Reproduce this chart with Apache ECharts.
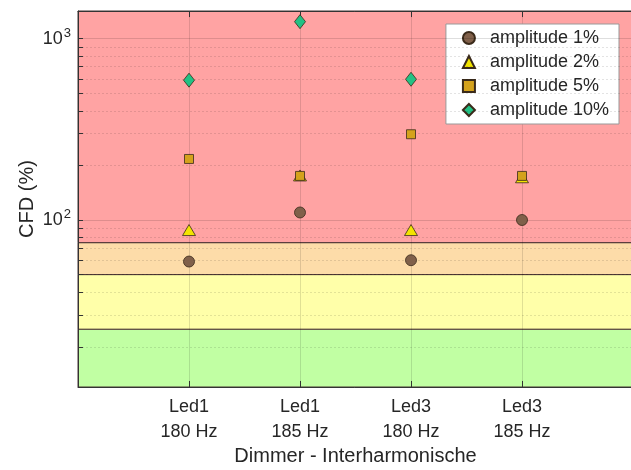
<!DOCTYPE html>
<html>
<head>
<meta charset="utf-8">
<script src="https://cdn.jsdelivr.net/npm/echarts@6/dist/echarts.min.js"></script>
<style>
  html, body { margin: 0; padding: 0; background: #fff; }
  #chart { width: 631px; height: 470px; }
</style>
</head>
<body>
<div id="chart"></div>
<script>
// categories on the x axis (positions 1..4)
const categories = ['Led1\n180 Hz', 'Led1\n185 Hz', 'Led3\n180 Hz', 'Led3\n185 Hz']
const seriesNames = ['amplitude 1%', 'amplitude 2%', 'amplitude 5%', 'amplitude 10%']
// CFD (%) values
const amp1 = [59, 110, 60, 100]
const amp2 = [88, 176, 88, 172]
const amp5 = [217, 175, 297, 175]
const amp10 = [590, 1240, 597, null]
// y range and limit bands
const yMin = 12
const yMax = 1420
const bandLimits = [yMin, 25, 50, 75, yMax]
const majorTicks = [100, 1000]
const minorGrid = [20, 30, 40, 50, 60, 70, 80, 90, 200, 300, 400, 500, 600, 700, 800, 900]

const bandColors = ['#c1ffa3', '#ffffa9', '#fddca9', '#ffa3a3']
const markers = [
  { symbol: 'circle', size: 11, color: '#80604a' },
  { symbol: 'triangle', size: [13, 11], color: '#f2e400' },
  { symbol: 'rect', size: 9, color: '#d4a21c' },
  { symbol: 'diamond', size: [11, 14], color: '#22c184' }
]
const values = [amp1, amp2, amp5, amp10]

const toPoints = arr => arr
  .map((v, i) => (v == null ? null : [i + 1, v]))
  .filter(p => p)

const powLabel = v => {
  const e = Math.round(Math.log10(v))
  if (Math.abs(Math.pow(10, e) - v) > 1e-6 * v) return ''
  return '{b|10}{s|' + e + '}'
}

// inward tick length on the left axis, in x units (one unit ~110 px)
const tickLen = 0.045
const yTickValues = majorTicks.concat(minorGrid).filter(v => v > yMin && v < yMax)

const chart = echarts.init(document.getElementById('chart'), null, { renderer: 'canvas' })

const option = {
  animation: false,
  textStyle: { fontFamily: 'Liberation Sans, Arial, sans-serif' },
  grid: { left: 78, top: 11, right: -2, bottom: 83, containLabel: false, outerBoundsMode: 'none' },
  legend: {
    data: seriesNames,
    orient: 'vertical',
    right: 12,
    top: 24,
    backgroundColor: '#fff',
    borderColor: '#999',
    borderWidth: 1,
    padding: [4, 10, 4, 16],
    itemGap: 4,
    itemWidth: 12,
    itemHeight: 12,
    textStyle: { fontSize: 18, color: '#262626', lineHeight: 20, padding: [0, 0, 0, 10] }
  },
  xAxis: [
    {
      type: 'value',
      min: 0,
      max: 5,
      interval: 1,
      z: 3,
      name: 'Dimmer - Interharmonische',
      nameLocation: 'middle',
      nameGap: 59,
      nameMoveOverlap: false,
      nameTextStyle: { fontSize: 20, color: '#262626' },
      axisLine: { show: true, lineStyle: { color: '#333' } },
      axisTick: { show: false },
      axisLabel: {
        fontSize: 18,
        color: '#262626',
        lineHeight: 25,
        margin: 8,
        formatter: v => categories[v - 1] || ''
      },
      splitLine: { show: true, lineStyle: { color: 'rgba(0,0,0,0.12)' } }
    },
    {
      type: 'value',
      position: 'top',
      min: 0,
      max: 5,
      interval: 1,
      z: 3,
      axisLine: { show: true, lineStyle: { color: '#333' } },
      axisTick: { show: false },
      axisLabel: { show: false },
      splitLine: { show: false }
    }
  ],
  yAxis: [
    {
      type: 'log',
      logBase: 10,
      min: yMin,
      max: yMax,
      z: 3,
      name: 'CFD (%)',
      nameLocation: 'middle',
      nameGap: 41,
      nameMoveOverlap: false,
      nameTextStyle: { fontSize: 20, color: '#262626' },
      axisLine: { show: true, lineStyle: { color: '#333' } },
      axisTick: { show: false },
      axisLabel: {
        margin: 7,
        customValues: majorTicks,
        formatter: powLabel,
        rich: {
          b: { fontSize: 18, color: '#262626' },
          s: { fontSize: 13, color: '#262626', padding: [0, 0, 11, 1] }
        }
      },
      splitLine: { show: false }
    }
  ],
  series: [
    {
      name: 'bands',
      type: 'line',
      data: [],
      z: 1,
      silent: true,
      markArea: {
        silent: true,
        itemStyle: { borderColor: '#4a3434', borderWidth: 1 },
        data: bandColors.map((c, i) => [
          { yAxis: bandLimits[i], itemStyle: { color: c } },
          { yAxis: bandLimits[i + 1] }
        ])
      }
    },
    {
      name: 'grid lines',
      type: 'line',
      data: [],
      z: 3,
      silent: true,
      markLine: {
        silent: true,
        symbol: 'none',
        label: { show: false },
        lineStyle: { color: 'rgba(0,0,0,0.11)', type: [2, 2], width: 1 },
        data: minorGrid.map(v => ({ yAxis: v })).concat(majorTicks.map(v => ({
          yAxis: v,
          lineStyle: { color: 'rgba(0,0,0,0.13)', type: 'solid' }
        })))
      }
    },
    {
      name: 'ticks',
      type: 'line',
      data: [],
      z: 4,
      silent: true,
      markLine: {
        silent: true,
        symbol: 'none',
        label: { show: false },
        lineStyle: { color: '#333', type: 'solid', width: 1 },
        data: yTickValues.map(v => [{ xAxis: 0, yAxis: v }, { xAxis: tickLen, yAxis: v }])
          .concat([1, 2, 3, 4].map(i => [{ xAxis: i, yAxis: yMin }, { xAxis: i, yAxis: yMin * 1.08 }]))
          .concat([1, 2, 3, 4].map(i => [{ xAxis: i, yAxis: yMax }, { xAxis: i, yAxis: yMax / 1.08 }]))
      }
    }
  ].concat(values.map((arr, i) => ({
    name: seriesNames[i],
    type: 'scatter',
    z: 5,
    symbol: markers[i].symbol,
    symbolSize: markers[i].size,
    itemStyle: { color: markers[i].color, borderColor: '#3a2a1a', borderWidth: 0.8, opacity: 1 },
    data: toPoints(arr)
  })))
}

chart.setOption(option)
</script>
</body>
</html>
